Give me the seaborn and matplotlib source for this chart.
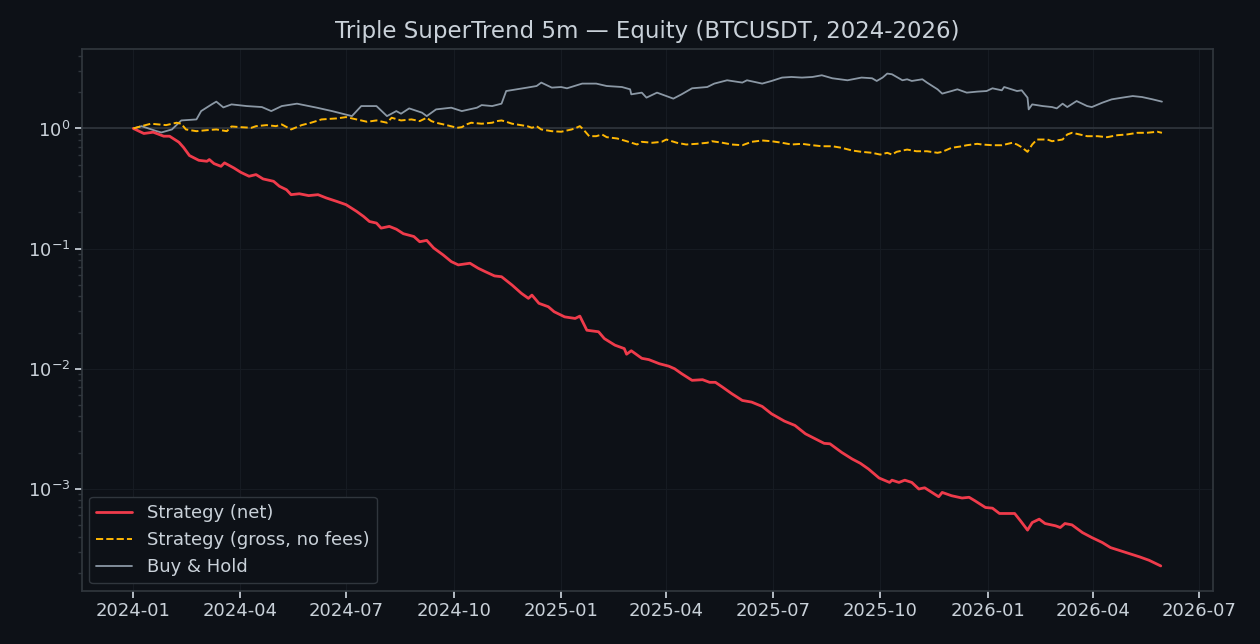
import pandas as pd
import seaborn as sns
import matplotlib.pyplot as plt

# equity curves (days since 2024-01-01, equity multiple)
start = pd.Timestamp('2024-01-01')

net_days = [0, 9, 17, 26, 31, 39, 43, 48, 56, 63, 65, 69, 75, 78, 86, 92, 99, 105, 111, 120,
            125, 131, 135, 142, 150, 158, 165, 174, 182, 191, 197, 202, 208, 212, 219, 225, 231,
            240, 245, 251, 257, 265, 272, 278, 288, 295, 301, 309, 315, 324, 332, 338, 341, 347,
            355, 360, 369, 378, 382, 388, 398, 403, 412, 420, 422, 426, 435, 441, 450, 458, 463,
            469, 478, 487, 493, 498, 504, 512, 521, 529, 538, 546, 557, 566, 575, 585, 591, 596,
            606, 615, 622, 629, 638, 647, 649, 655, 660, 666, 672, 677, 689, 692, 700, 709, 715,
            720, 729, 735, 741, 749, 754, 759, 765, 769, 775, 780, 789, 793, 797, 803, 812, 820,
            829, 836, 843, 852, 861, 869, 879]
net_equity = [1.0, 0.908, 0.931, 0.862, 0.862, 0.768, 0.694, 0.595, 0.543, 0.533, 0.551, 0.510,
              0.484, 0.517, 0.469, 0.431, 0.400, 0.413, 0.380, 0.363, 0.330, 0.309, 0.281, 0.286,
              0.276, 0.281, 0.264, 0.247, 0.232, 0.204, 0.185, 0.168, 0.163, 0.148, 0.153, 0.145,
              0.133, 0.126, 0.114, 0.117, 0.101, 0.0886, 0.0779, 0.0731, 0.0755, 0.0686, 0.0643,
              0.0592, 0.0583, 0.0497, 0.0424, 0.0385, 0.0410, 0.0350, 0.0328, 0.0298, 0.0270,
              0.0262, 0.0274, 0.0209, 0.0203, 0.0178, 0.0157, 0.0147, 0.0132, 0.0141, 0.0122,
              0.0119, 0.0110, 0.0105, 0.0100, 0.0091, 0.0080, 0.0081, 0.0077, 0.0077, 0.00703,
              0.00619, 0.00544, 0.00527, 0.00485, 0.00421, 0.00366, 0.00337, 0.00287, 0.00256,
              0.00239, 0.00237, 0.00201, 0.00177, 0.00163, 0.00146, 0.00123, 0.00113, 0.00118,
              0.00113, 0.00118, 0.00113, 0.000996, 0.00102, 0.000859, 0.000933, 0.000876,
              0.000838, 0.00085, 0.000795, 0.000699, 0.00069, 0.000623, 0.000623, 0.000623,
              0.000541, 0.000453, 0.000524, 0.000559, 0.000514, 0.000492, 0.000476, 0.000514,
              0.000501, 0.000432, 0.000393, 0.000357, 0.000324, 0.000308, 0.000289, 0.000271,
              0.000254, 0.000228]

gross_days = [0, 7, 15, 28, 37, 41, 45, 54, 63, 71, 80, 84, 92, 101, 105, 114, 122, 127, 135,
              144, 152, 161, 174, 182, 191, 200, 208, 217, 221, 229, 238, 245, 251, 255, 259, 268,
              277, 281, 285, 289, 298, 307, 311, 315, 319, 324, 328, 337, 341, 345, 349, 358, 366,
              375, 379, 382, 385, 390, 396, 401, 405, 414, 422, 431, 435, 444, 452, 456, 465, 473,
              482, 491, 495, 504, 512, 521, 529, 538, 546, 555, 563, 572, 581, 589, 598, 606, 615,
              623, 632, 639, 645, 649, 653, 662, 670, 679, 688, 692, 700, 709, 713, 722, 726, 735,
              743, 748, 752, 756, 760, 765, 769, 773, 782, 786, 795, 799, 803, 807, 812, 816, 825,
              833, 842, 850, 859, 867, 876, 880]
gross_equity = [1.0, 1.045, 1.095, 1.066, 1.116, 1.095, 0.981, 0.949, 0.968, 0.981, 0.949, 1.039,
                1.025, 1.013, 1.045, 1.066, 1.045, 1.080, 0.981, 1.066, 1.116, 1.189, 1.212, 1.243,
                1.189, 1.137, 1.166, 1.116, 1.228, 1.166, 1.189, 1.151, 1.228, 1.151, 1.116, 1.066,
                1.013, 1.025, 1.080, 1.116, 1.095, 1.116, 1.151, 1.166, 1.137, 1.095, 1.080, 1.045,
                1.013, 1.045, 0.981, 0.949, 0.939, 0.981, 1.013, 1.045, 0.981, 0.862, 0.862, 0.891,
                0.846, 0.825, 0.783, 0.735, 0.774, 0.760, 0.774, 0.809, 0.760, 0.735, 0.745, 0.760,
                0.783, 0.760, 0.735, 0.725, 0.774, 0.794, 0.783, 0.760, 0.735, 0.745, 0.725, 0.711,
                0.711, 0.690, 0.655, 0.639, 0.627, 0.606, 0.627, 0.606, 0.639, 0.667, 0.646, 0.646,
                0.627, 0.639, 0.690, 0.711, 0.725, 0.745, 0.735, 0.725, 0.725, 0.745, 0.760, 0.735,
                0.698, 0.639, 0.735, 0.809, 0.809, 0.783, 0.809, 0.891, 0.920, 0.903, 0.879, 0.862,
                0.862, 0.846, 0.879, 0.891, 0.920, 0.920, 0.939, 0.920]

bh_days = [0, 7, 20, 24, 33, 41, 54, 58, 67, 71, 77, 84, 97, 110, 118, 127, 140, 157, 170, 187,
           195, 208, 217, 225, 229, 236, 247, 251, 259, 272, 281, 294, 298, 307, 315, 319, 328,
           337, 345, 349, 358, 366, 371, 384, 396, 405, 418, 425, 426, 435, 439, 448, 456, 462,
           469, 478, 491, 497, 508, 521, 525, 538, 546, 555, 563, 572, 581, 589, 598, 611, 623,
           632, 636, 641, 645, 649, 658, 662, 666, 675, 679, 688, 692, 700, 705, 713, 722, 730,
           735, 743, 745, 756, 760, 765, 766, 769, 778, 786, 790, 795, 799, 807, 816, 820, 829,
           837, 846, 855, 863, 872, 880]
bh_equity = [1.0, 1.045, 0.949, 0.926, 0.981, 1.166, 1.189, 1.395, 1.586, 1.672, 1.497, 1.586,
             1.536, 1.507, 1.395, 1.536, 1.608, 1.489, 1.395, 1.267, 1.536, 1.536, 1.267, 1.395,
             1.327, 1.469, 1.353, 1.267, 1.441, 1.489, 1.395, 1.489, 1.565, 1.536, 1.608, 2.049,
             2.118, 2.188, 2.256, 2.409, 2.188, 2.213, 2.159, 2.363, 2.363, 2.256, 2.213, 2.118,
             1.923, 1.987, 1.805, 1.987, 1.861, 1.771, 1.923, 2.159, 2.213, 2.363, 2.518, 2.409,
             2.518, 2.363, 2.485, 2.652, 2.683, 2.652, 2.683, 2.772, 2.617, 2.518, 2.652, 2.617,
             2.485, 2.652, 2.864, 2.826, 2.518, 2.567, 2.485, 2.567, 2.409, 2.118, 1.950, 2.049,
             2.118, 1.987, 2.026, 2.049, 2.159, 2.077, 2.213, 2.049, 2.077, 1.805, 1.441, 1.586,
             1.536, 1.507, 1.469, 1.608, 1.507, 1.691, 1.536, 1.507, 1.639, 1.747, 1.805, 1.861,
             1.826, 1.747, 1.672]

net = pd.DataFrame({'date': start + pd.to_timedelta(net_days, unit='D'), 'equity': net_equity})
gross = pd.DataFrame({'date': start + pd.to_timedelta(gross_days, unit='D'), 'equity': gross_equity})
bh = pd.DataFrame({'date': start + pd.to_timedelta(bh_days, unit='D'), 'equity': bh_equity})

bg = '#0d1117'
fg = '#c9d1d9'
edge = '#30363d'

sns.set_theme(style='dark')
plt.rcParams.update({
    'figure.facecolor': bg,
    'axes.facecolor': bg,
    'axes.edgecolor': edge,
    'axes.labelcolor': fg,
    'text.color': fg,
    'xtick.color': fg,
    'ytick.color': fg,
    'xtick.bottom': True,
    'ytick.left': True,
    'axes.grid': True,
    'grid.color': '#161b22',
    'grid.linewidth': 0.8,
})
plt.rcParams['font.family'] = ['DejaVu Sans']

fig, ax = plt.subplots(figsize=(12.6, 6.44), dpi=100)
ax.axhline(1.0, color=edge, lw=1.2, zorder=1)
sns.lineplot(data=net, x='date', y='equity', ax=ax, color='#ef3b4b', lw=2.0,
             label='Strategy (net)', zorder=3)
sns.lineplot(data=gross, x='date', y='equity', ax=ax, color='#ffb703', lw=1.4,
             linestyle='--', label='Strategy (gross, no fees)', zorder=3)
sns.lineplot(data=bh, x='date', y='equity', ax=ax, color='#8b98a5', lw=1.3,
             label='Buy & Hold', zorder=2)

ax.set_yscale('log')
ax.set_title('Triple SuperTrend 5m — Equity (BTCUSDT, 2024-2026)', fontsize=16.5, color=fg, pad=8)
ax.set_xlabel('')
ax.set_ylabel('')
ax.tick_params(axis='both', which='major', labelsize=13, length=5, color=fg)
ax.tick_params(axis='y', which='minor', length=3, color=edge)
for s in ax.spines.values():
    s.set_color(edge)

leg = ax.legend(loc='lower left', fontsize=13, facecolor=bg, edgecolor=edge, framealpha=1,
                borderaxespad=0.4)
for t in leg.get_texts():
    t.set_color(fg)

fig.subplots_adjust(left=0.065, right=0.963, top=0.924, bottom=0.083)
fig.savefig('out.png', dpi=100, facecolor=bg)
